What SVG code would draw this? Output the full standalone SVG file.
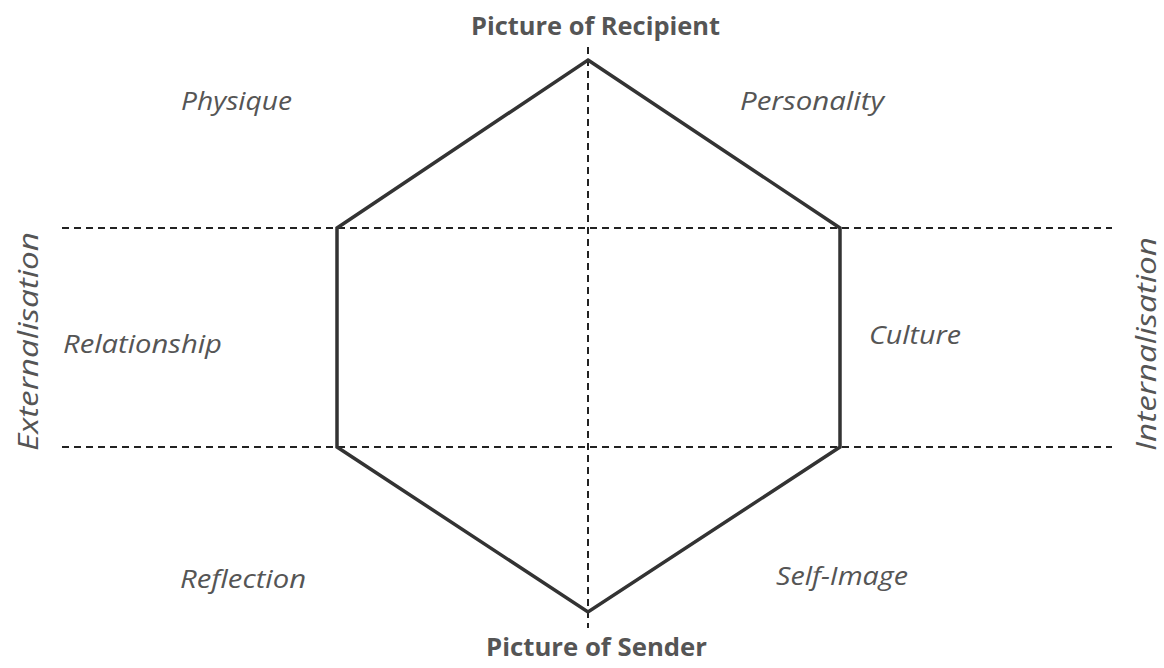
<svg xmlns="http://www.w3.org/2000/svg" width="1164" height="668" viewBox="0 0 1164 668">
<style>
.dash{stroke:#222;stroke-width:2;stroke-dasharray:7 5;fill:none}
.hex{stroke:#333;stroke-width:3.5;fill:none;stroke-linejoin:miter}
.t{font-family:"Open Sans","Liberation Sans",sans-serif;font-size:25px;fill:#555}
.b{font-weight:bold}
.i{font-style:italic}
.v{font-size:28px}
</style>
<rect width="1164" height="668" fill="#fff"/>
<g id="connectors">
<line class="dash" x1="62" y1="228" x2="1112" y2="228"/>
<line class="dash" x1="62" y1="447" x2="1112" y2="447"/>
<line class="dash" x1="588" y1="47" x2="588" y2="628"/>
<polygon class="hex" points="588,60 840,228 840,447 588,612 337,447 337,228"/>
</g>
<g id="recipient"><text class="t b" x="471" y="35" textLength="249" lengthAdjust="spacingAndGlyphs">Picture of Recipient</text></g>
<g id="sender"><text class="t b" x="486" y="656" textLength="221" lengthAdjust="spacingAndGlyphs">Picture of Sender</text></g>
<g id="physique"><text class="t i" x="181" y="110" textLength="111" lengthAdjust="spacingAndGlyphs">Physique</text></g>
<g id="personality"><text class="t i" x="740" y="110" textLength="144" lengthAdjust="spacingAndGlyphs">Personality</text></g>
<g id="relationship"><text class="t i" x="63" y="353" textLength="159" lengthAdjust="spacingAndGlyphs">Relationship</text></g>
<g id="culture"><text class="t i" x="869" y="344" textLength="92" lengthAdjust="spacingAndGlyphs">Culture</text></g>
<g id="reflection"><text class="t i" x="180" y="588" textLength="126" lengthAdjust="spacingAndGlyphs">Reflection</text></g>
<g id="selfimage"><text class="t i" x="776" y="585" textLength="132" lengthAdjust="spacingAndGlyphs">Self-Image</text></g>
<g id="externalisation"><text class="t i v" transform="translate(38,451) rotate(-90)" textLength="219" lengthAdjust="spacingAndGlyphs">Externalisation</text></g>
<g id="internalisation"><text class="t i v" transform="translate(1156,451) rotate(-90)" textLength="214" lengthAdjust="spacingAndGlyphs">Internalisation</text></g>
</svg>
